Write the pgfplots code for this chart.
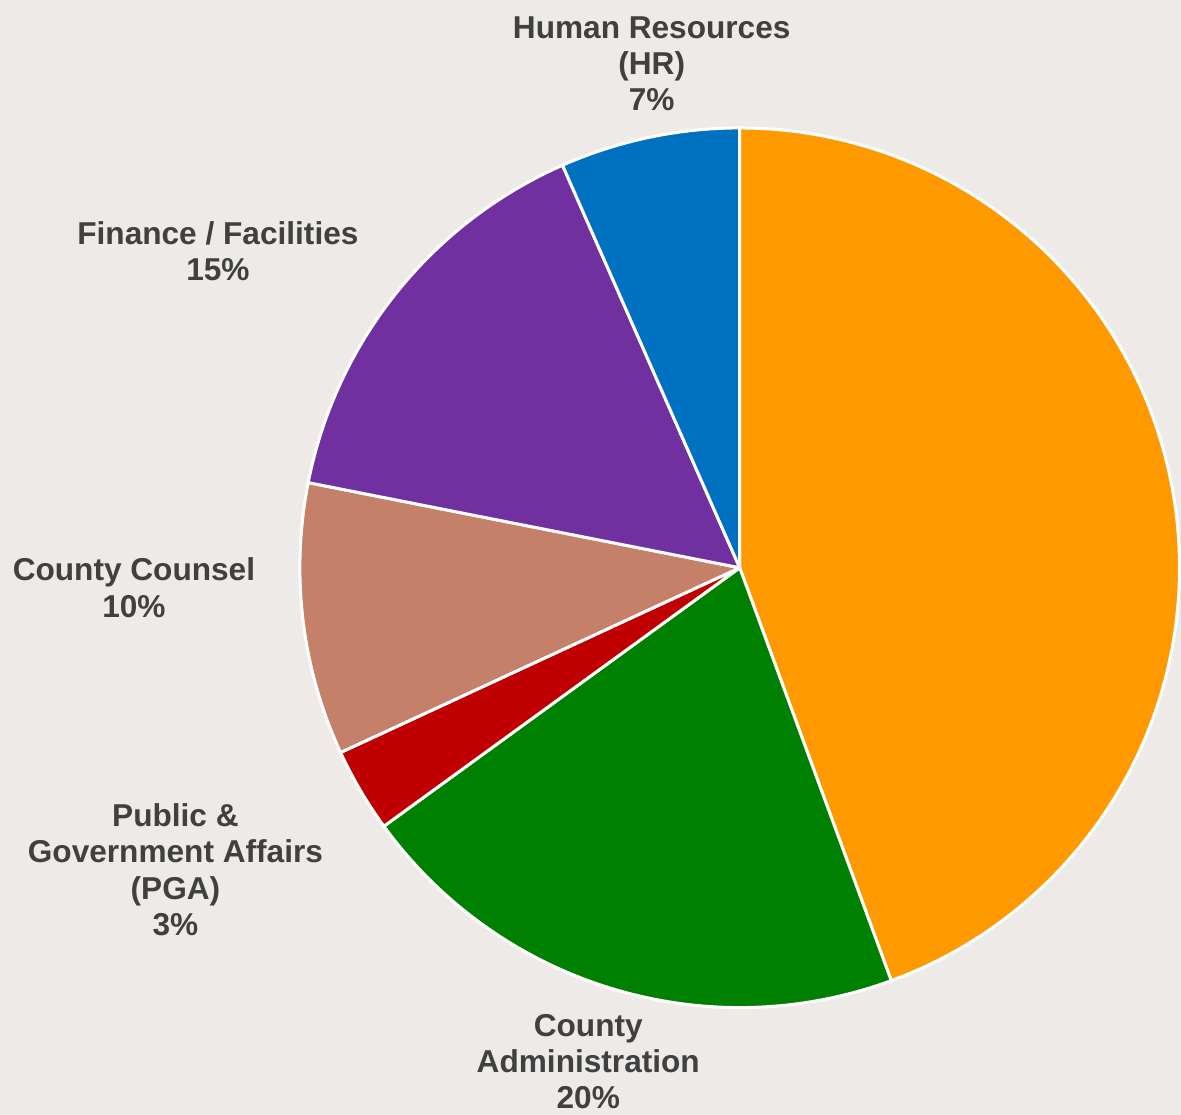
\documentclass[border=0pt]{standalone}
\usepackage{pgfplots}
\pgfplotsset{compat=1.18}
\usepackage{fontspec}
\setmainfont{Liberation Sans}
\definecolor{bgC}{HTML}{EDEAE7}
\definecolor{txtC}{HTML}{404040}
\definecolor{orangeC}{HTML}{FF9900}
\definecolor{greenC}{HTML}{008000}
\definecolor{redC}{HTML}{C00000}
\definecolor{brownC}{HTML}{C5806A}
\definecolor{purpleC}{HTML}{7030A0}
\definecolor{blueC}{HTML}{0070C0}
% shares in percent, in order clockwise from the top:
% County Administration remainder (orange) 44.4, County Administration 20.6,
% PGA 3.1, County Counsel 10.0, Finance/Facilities 15.3, HR 6.6
% slice: start cumulative %, end cumulative %, colour
\newcommand\slice[3]{%
  \addplot[fill=#3, draw=white, line width=1.7pt, line join=round,
    domain=90-3.6*#2:90-3.6*#1, samples=120, variable=\t]
    ({440*cos(\t)},{440*sin(\t)}) -- (axis cs:0,0) -- cycle;}
\begin{document}
\begin{tikzpicture}
\begin{axis}[
  x=0.02cm, y=0.02cm,
  xmin=-740, xmax=441, ymin=-547, ymax=568,
  hide axis, clip=false,
]
\fill[bgC] (axis cs:-740,-547) rectangle (axis cs:441,568);
\slice{0}{44.4}{orangeC}
\slice{44.4}{65.0}{greenC}
\slice{65.0}{68.1}{redC}
\slice{68.1}{78.1}{brownC}
\slice{78.1}{93.4}{purpleC}
\slice{93.4}{100}{blueC}
\begin{scope}[every node/.style={align=center, inner sep=0pt, text=txtC,
    font=\fontsize{18}{20.6}\selectfont\bfseries}]
\node at (axis cs:-88,504) {Human Resources\\(HR)\\7\%};
\node at (axis cs:-522,316.5) {Finance / Facilities\\15\%};
\node at (axis cs:-606,-20) {County Counsel\\10\%};
\node at (axis cs:-564.5,-302) {Public \&\\Government Affairs\\(PGA)\\3\%};
\node at (axis cs:-151.5,-494) {County\\Administration\\20\%};
\end{scope}
\end{axis}
\end{tikzpicture}
\end{document}
